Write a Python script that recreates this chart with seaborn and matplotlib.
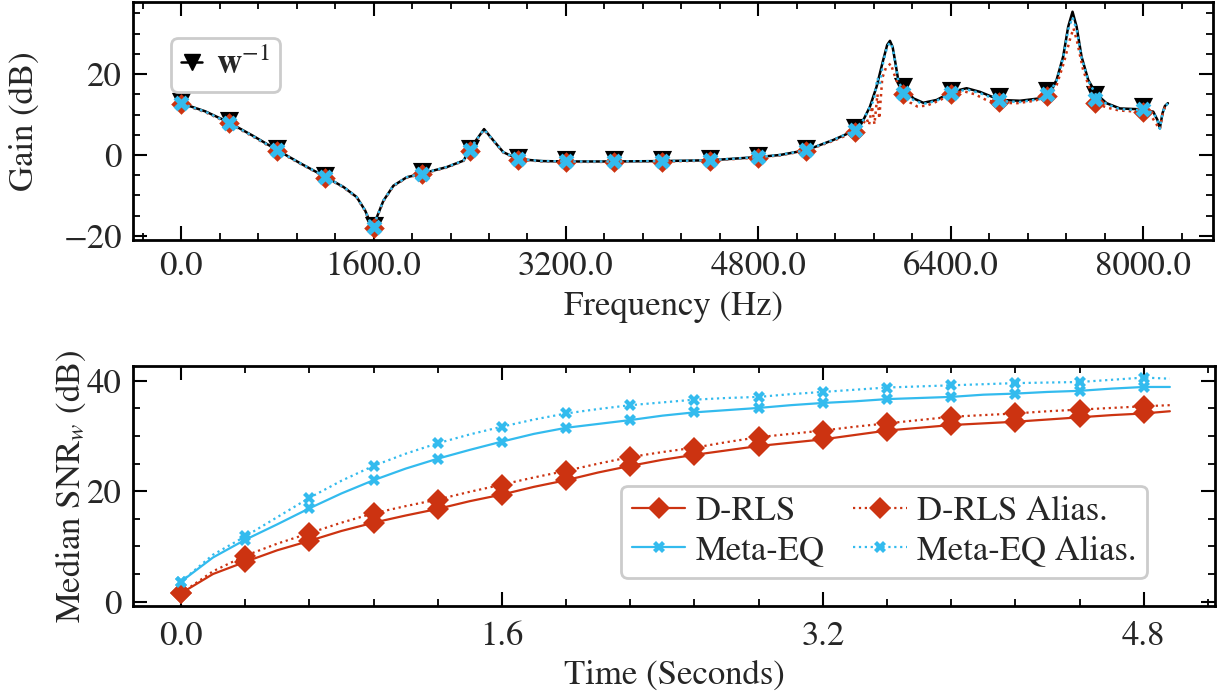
import numpy as np
import pandas as pd
import matplotlib
matplotlib.use("Agg")
import matplotlib.pyplot as plt
from matplotlib.lines import Line2D
from matplotlib.ticker import MultipleLocator, AutoMinorLocator, FormatStrFormatter
import seaborn as sns

# ---------------- data: top panel (frequency response) ----------------
freq_black = [0, 200, 400, 600, 800, 1000, 1200, 1350, 1460, 1530, 1571, 1600, 1627, 1682,
              1765, 1876, 2000, 2208, 2347, 2430, 2519, 2596, 2679, 2800, 3000, 3200, 3600,
              4000, 4400, 4800, 4979, 5200, 5422, 5611, 5672, 5727, 5783, 5838, 5871, 5894,
              5916, 5935, 5963, 6010, 6088, 6171, 6282, 6409, 6531, 6642, 6808, 6975, 7141,
              7213, 7279, 7334, 7376, 7412, 7446, 7487, 7543, 7612, 7695, 7806, 7972, 8083,
              8119, 8138, 8160, 8180, 8205]
gain_black = [12.8, 10.8, 8.0, 4.7, 1.2, -2.2, -5.4, -7.9, -10.4, -13.7, -16.6, -18.4, -15.4,
              -11.3, -7.6, -5.5, -4.6, -3.0, -1.4, 2.7, 6.4, 3.6, 0.7, -1.0, -1.5, -1.6, -1.6,
              -1.5, -1.3, -0.5, 0.0, 1.2, 3.7, 6.2, 8.6, 11.9, 16.9, 23.5, 27.2, 28.2,
              26.7, 23.5, 18.5, 16.7, 14.0, 12.9, 13.6, 15.6, 16.5, 15.6, 13.6, 13.4, 14.0,
              15.2, 18.5, 24.3, 31.7, 35.4, 31.7, 24.3, 18.5, 15.0, 12.8, 11.5, 11.3, 10.7,
              8.6, 6.6, 10.3, 12.1, 12.8]

freq_red = [0, 200, 400, 600, 800, 1000, 1200, 1350, 1460, 1530, 1571, 1600, 1627, 1682,
            1765, 1876, 2000, 2208, 2347, 2430, 2519, 2596, 2679, 2800, 3000, 3200, 3600,
            4000, 4400, 4800, 4979, 5200, 5422, 5611, 5660, 5700, 5720, 5745, 5765, 5790,
            5805, 5830, 5860, 5900, 5940, 5970, 6000, 6060, 6120, 6200, 6300, 6400, 6500,
            6600, 6700, 6800, 6950, 7100, 7200, 7280, 7340, 7390, 7420, 7450, 7500, 7560,
            7600, 7700, 7800, 8000, 8060, 8100, 8138, 8160, 8180, 8205]
gain_red = [12.6, 10.6, 7.8, 4.5, 1.0, -2.3, -5.5, -8.0, -10.5, -13.8, -16.7, -18.3, -15.5,
            -11.4, -7.7, -5.6, -4.7, -3.1, -1.5, 2.6, 6.2, 3.5, 0.6, -1.1, -1.6, -1.7, -1.7,
            -1.6, -1.4, -0.6, -0.1, 1.1, 3.5, 5.8, 7.3, 9.0, 7.4, 12.0, 7.6, 15.0,
            9.0, 19.0, 21.5, 22.6, 19.0, 17.0, 15.0, 13.0, 12.0, 12.2, 13.4, 15.0, 15.8,
            15.0, 13.5, 12.9, 12.8, 13.4, 14.5, 17.3, 22.8, 28.5, 31.3, 28.0, 21.0, 16.0,
            12.8, 11.7, 11.0, 10.6, 10.0, 8.0, 6.4, 10.0, 11.8, 12.5]

freq_blue = [0, 200, 400, 600, 800, 1000, 1200, 1350, 1460, 1530, 1571, 1600, 1627, 1682,
             1765, 1876, 2000, 2208, 2347, 2430, 2519, 2596, 2679, 2800, 3000, 3200, 3600,
             4000, 4400, 4800, 4979, 5200, 5422, 5611, 5672, 5727, 5760, 5790, 5810, 5838,
             5871, 5894, 5916, 5935, 5963, 6010, 6088, 6171, 6282, 6409, 6531, 6642, 6808,
             6975, 7141, 7213, 7279, 7334, 7376, 7412, 7446, 7487, 7543, 7612, 7695, 7806,
             7972, 8083, 8119, 8138, 8160, 8180, 8205]
gain_blue = [12.7, 10.7, 7.9, 4.6, 1.1, -2.2, -5.4, -7.9, -10.4, -13.7, -16.6, -18.2, -15.4,
             -11.3, -7.6, -5.5, -4.6, -3.0, -1.4, 2.7, 6.3, 3.6, 0.7, -1.0, -1.5, -1.6, -1.6,
             -1.5, -1.3, -0.5, 0.0, 1.2, 3.7, 6.2, 8.6, 11.9, 13.5, 19.0, 17.5, 23.0,
             26.8, 27.8, 26.5, 23.3, 18.3, 15.5, 13.6, 12.6, 13.4, 15.3, 16.2, 15.3, 13.3,
             13.1, 13.8, 15.0, 18.3, 24.0, 31.0, 34.0, 31.0, 24.0, 18.3, 14.6, 12.6, 11.3,
             11.1, 10.5, 8.5, 6.5, 10.2, 12.0, 12.7]

marker_freq = [0, 400, 800, 1200, 1600, 2000, 2400, 2800, 3200, 3600, 4000, 4400, 4800,
               5200, 5600, 6000, 6400, 6800, 7200, 7600, 8000]
marker_black = [13.1, 8.3, 1.5, -5.1, -17.5, -4.3, 1.5, -0.7, -1.3, -1.3, -1.2, -1.0, -0.2,
                1.5, 6.7, 16.7, 15.9, 14.3, 15.8, 14.8, 11.9]
marker_red = [12.6, 7.8, 1.0, -5.6, -18.0, -4.8, 1.0, -1.2, -1.8, -1.8, -1.7, -1.5, -0.7,
              1.0, 5.8, 15.0, 15.0, 13.0, 14.5, 12.8, 10.7]
marker_blue = [12.8, 8.0, 1.2, -5.4, -17.8, -4.6, 1.2, -1.0, -1.6, -1.6, -1.5, -1.3, -0.5,
               1.2, 6.2, 15.3, 15.3, 13.5, 15.1, 13.8, 11.3]

# ---------------- data: bottom panel (SNR vs time) ----------------
time_s = [0.0, 0.16, 0.32, 0.48, 0.64, 0.80, 0.96, 1.12, 1.28, 1.44, 1.60, 1.76, 1.92, 2.08,
          2.24, 2.40, 2.56, 2.72, 2.88, 3.04, 3.20, 3.36, 3.52, 3.68, 3.84, 4.00, 4.16, 4.32,
          4.48, 4.64, 4.80, 4.93]
snr_drls = [1.5, 5.0, 7.2, 9.3, 11.0, 12.8, 14.3, 15.6, 16.8, 18.2, 19.4, 20.8, 22.0, 23.4,
            24.6, 25.7, 26.6, 27.4, 28.2, 28.8, 29.4, 30.2, 31.0, 31.5, 32.0, 32.3, 32.6, 33.0,
            33.4, 33.8, 34.1, 34.5]
snr_drls_alias = [1.5, 5.5, 8.3, 10.5, 12.4, 14.3, 16.0, 17.3, 18.5, 19.9, 21.2, 22.5, 23.7,
                  25.0, 26.2, 27.1, 27.9, 28.9, 29.8, 30.4, 31.0, 31.7, 32.3, 32.9, 33.5, 33.8,
                  34.1, 34.5, 34.8, 35.1, 35.4, 35.6]
snr_meta = [3.6, 8.0, 11.2, 14.0, 16.9, 19.6, 22.0, 24.1, 25.9, 27.5, 29.0, 30.4, 31.5, 32.2,
            32.9, 33.7, 34.3, 34.7, 35.1, 35.6, 36.0, 36.3, 36.7, 36.9, 37.1, 37.5, 37.7, 38.0,
            38.2, 38.6, 38.9, 38.9]
snr_meta_alias = [3.6, 8.5, 11.8, 15.3, 18.8, 21.9, 24.6, 26.8, 28.7, 30.3, 31.7, 33.0, 34.1,
                  34.9, 35.6, 36.1, 36.6, 36.9, 37.1, 37.6, 38.0, 38.4, 38.8, 39.0, 39.2, 39.4,
                  39.6, 39.7, 39.8, 40.2, 40.6, 40.4]

series_names = ["D-RLS", "D-RLS Alias.", "Meta-EQ", "Meta-EQ Alias."]

# ---------------- style ----------------
RED = "#CC3311"
CYAN = "#33BBEE"
sns.set_theme(style="ticks")
plt.rcParams["font.family"] = ["STIXGeneral", "Liberation Serif", "DejaVu Serif"]
plt.rcParams["mathtext.fontset"] = "stix"
FS = 25
plt.rcParams["font.size"] = FS

fig = plt.figure(figsize=(12.25, 6.96), dpi=100)
W, H = 1225, 696
ax1 = fig.add_axes([133 / W, 1 - 240 / H, 1080 / W, 238 / H])
ax2 = fig.add_axes([133 / W, 1 - 606 / H, 1082 / W, 240 / H])

# ---------------- top panel ----------------
sns.lineplot(x=freq_black, y=gain_black, ax=ax1, color="black", lw=1.8, sort=False,
             estimator=None, zorder=2)
sns.scatterplot(x=marker_freq, y=marker_black, ax=ax1, marker="v", color="black", s=190,
                linewidth=0, zorder=3)
sns.lineplot(x=freq_red, y=gain_red, ax=ax1, color=RED, lw=1.8, linestyle=":", sort=False,
             estimator=None, zorder=4)
sns.scatterplot(x=marker_freq, y=marker_red, ax=ax1, marker="D", color=RED, s=110,
                linewidth=0, zorder=5)
sns.lineplot(x=freq_blue, y=gain_blue, ax=ax1, color=CYAN, lw=1.8, linestyle=":", sort=False,
             estimator=None, zorder=6)
sns.scatterplot(x=marker_freq, y=marker_blue, ax=ax1, marker="X", color=CYAN, s=130,
                linewidth=0, zorder=7)

ax1.set_xlim(-400, 8580)
ax1.set_ylim(-21.0, 37.8)
ax1.xaxis.set_major_locator(MultipleLocator(1600))
ax1.xaxis.set_minor_locator(AutoMinorLocator(5))
ax1.yaxis.set_major_locator(MultipleLocator(20))
ax1.yaxis.set_minor_locator(AutoMinorLocator(4))
ax1.xaxis.set_major_formatter(FormatStrFormatter("%.1f"))
ax1.set_xlabel("Frequency (Hz)", fontsize=FS, labelpad=6)
ax1.set_ylabel("Gain (dB)", fontsize=FS, labelpad=16)

handle = Line2D([], [], color="black", lw=1.8, marker="v", markersize=12)
leg1 = ax1.legend([handle], [r"$\mathbf{w}^{-1}$"], loc="upper left",
                  bbox_to_anchor=(0.035, 0.85), borderaxespad=0, handlelength=0.6,
                  handletextpad=0.4, fontsize=FS, fancybox=True, framealpha=1,
                  edgecolor="#cccccc", borderpad=0.3)
leg1.get_frame().set_linewidth(2.0)

# ---------------- bottom panel ----------------
sns.lineplot(x=time_s, y=snr_drls, ax=ax2, color=RED, lw=1.6, marker="D", markersize=11,
             markeredgewidth=0, markevery=2, label=series_names[0], estimator=None)
sns.lineplot(x=time_s, y=snr_meta, ax=ax2, color=CYAN, lw=1.6, marker="X", markersize=8.5,
             markeredgewidth=0, markevery=2, label=series_names[2], estimator=None)
sns.lineplot(x=time_s, y=snr_drls_alias, ax=ax2, color=RED, lw=1.6, linestyle=":", marker="D",
             markersize=11, markeredgewidth=0, markevery=2, label=series_names[1], estimator=None)
sns.lineplot(x=time_s, y=snr_meta_alias, ax=ax2, color=CYAN, lw=1.6, linestyle=":", marker="X",
             markersize=8.5, markeredgewidth=0, markevery=2, label=series_names[3], estimator=None)

ax2.set_xlim(-0.239, 5.155)
ax2.set_ylim(-0.8, 42.7)
ax2.xaxis.set_major_locator(MultipleLocator(1.6))
ax2.xaxis.set_minor_locator(AutoMinorLocator(5))
ax2.yaxis.set_major_locator(MultipleLocator(20))
ax2.yaxis.set_minor_locator(AutoMinorLocator(4))
ax2.xaxis.set_major_formatter(FormatStrFormatter("%.1f"))
ax2.set_xlabel("Time (Seconds)", fontsize=FS, labelpad=5)
ax2.set_ylabel(r"Median SNR$_w$ (dB)", fontsize=FS, labelpad=-1)

h, l = ax2.get_legend_handles_labels()
leg2 = ax2.legend(h, l, ncol=2, loc="lower right",
                  bbox_to_anchor=(0.937, 0.117), borderaxespad=0, handlelength=1.55,
                  handletextpad=0.3, columnspacing=0.8, labelspacing=0.2, fontsize=FS,
                  fancybox=True, framealpha=1, edgecolor="#cccccc", borderpad=0.3)
leg2.get_frame().set_linewidth(2.0)

for ax in (ax1, ax2):
    ax.tick_params(which="both", direction="in", top=True, right=True, labelsize=FS,
                   color="black")
    ax.tick_params(which="major", length=10, width=1.5, pad=8)
    ax.tick_params(which="minor", length=5, width=1.3)
    for sp in ax.spines.values():
        sp.set_linewidth(2.0)
        sp.set_color("black")
ax2.tick_params(axis="x", which="major", pad=11)

fig.savefig("out.png", dpi=100)
